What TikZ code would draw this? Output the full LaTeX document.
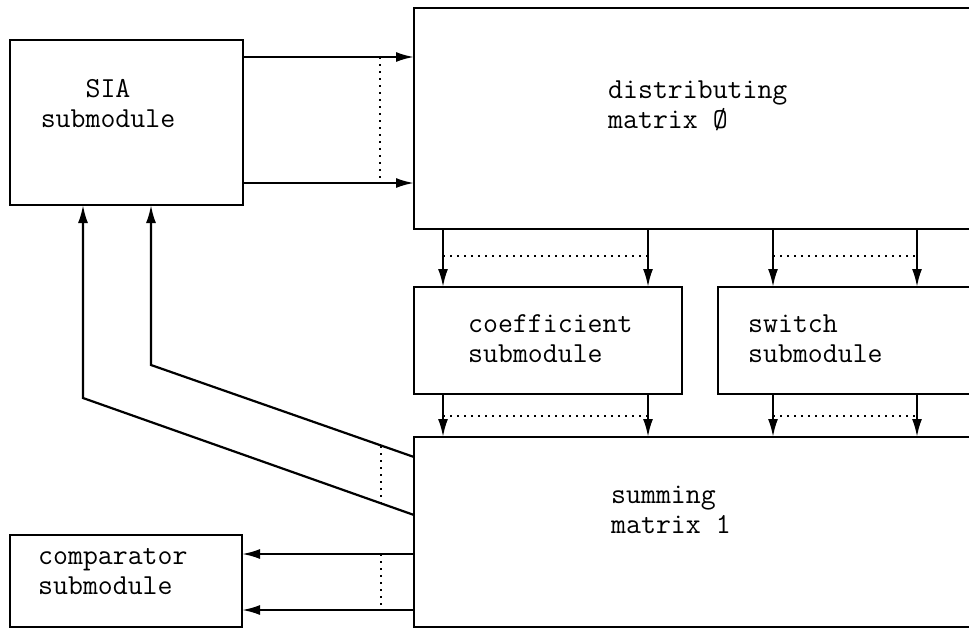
\documentclass[tikz,border=0pt]{standalone}
\usetikzlibrary{arrows.meta, positioning}
\begin{document}
\begin{tikzpicture}[x=1pt, y=-1pt,
    block/.style={draw, line width=2.2pt, inner sep=0pt, outer sep=0pt},
    boxtext/.style={font=\fontsize{29}{30}\selectfont\ttfamily, inner sep=0pt, align=left, anchor=base west},
    flow/.style={line width=2.2pt, -{Latex[length=18pt, width=10pt]}},
    bus/.style={line width=1.6pt, dash pattern=on 2pt off 5pt}]
        \useasboundingbox (0,0) rectangle (969,629);
        \clip (0,0) rectangle (969,629);

        % Boxes
        \node[block, minimum width=233pt, minimum height=165pt] (sia) at (126.5,122.5) {};
        \node[block, minimum width=586pt, minimum height=221pt] (dist) at (707,118.5) {};
        \node[block, minimum width=268pt, minimum height=107pt] (coef) at (548,340.5) {};
        \node[block, minimum width=282pt, minimum height=107pt] (switch) at (859,340.5) {};
        \node[block, minimum width=586pt, minimum height=190pt] (summ) at (707,532) {};
        \node[block, minimum width=232pt, minimum height=92pt] (comp) at (126,581) {};

        % Texts in the boxes (anchored on the last line)
        \node[boxtext, align=center, anchor=base] (siatext) at (108,127) {SIA\\submodule};
        \node[boxtext] (disttext) at (608,128) {distributing\\matrix Ø};
        \node[boxtext] (coeftext) at (468,362) {coefficient\\submodule};
        \node[boxtext] (switchtext) at (748,362) {switch\\submodule};
        \node[boxtext] (summtext) at (611,533) {summing\\matrix 1};
        \node[boxtext] (comptext) at (38,594) {comparator\\submodule};

        % SIA to distributing matrix
        \draw[flow] (sia.east |- 0,57) -- (dist.west |- 0,57);
        \draw[flow] (sia.east |- 0,183) -- (dist.west |- 0,183);
        \draw[bus] (380,57) -- (380,183);

        % Distributing matrix to coefficient and switch
        \draw[flow] (dist.south -| 443,0) -- (coef.north -| 443,0);
        \draw[flow] (dist.south -| 648,0) -- (coef.north -| 648,0);
        \draw[bus] (443,256) -- (648,256);
        \draw[flow] (dist.south -| 773,0) -- (switch.north -| 773,0);
        \draw[flow] (dist.south -| 917,0) -- (switch.north -| 917,0);
        \draw[bus] (773,256) -- (917,256);

        % Coefficient and switch to summing matrix
        \draw[flow] (coef.south -| 443,0) -- (summ.north -| 443,0);
        \draw[flow] (coef.south -| 648,0) -- (summ.north -| 648,0);
        \draw[bus] (443,416) -- (648,416);
        \draw[flow] (switch.south -| 773,0) -- (summ.north -| 773,0);
        \draw[flow] (switch.south -| 917,0) -- (summ.north -| 917,0);
        \draw[bus] (773,416) -- (917,416);

        % Summing matrix back to SIA
        \draw[flow] (summ.west |- 0,457) -- (151,365) -- (sia.south -| 151,0);
        \draw[flow] (summ.west |- 0,515) -- (83,398) -- (sia.south -| 83,0);
        \draw[bus] (381,446) -- (381,503);

        % Summing matrix to comparator
        \draw[flow] (summ.west |- 0,554) -- (comp.east |- 0,554);
        \draw[flow] (summ.west |- 0,610) -- (comp.east |- 0,610);
        \draw[bus] (381,554) -- (381,610);
\end{tikzpicture}
\end{document}
